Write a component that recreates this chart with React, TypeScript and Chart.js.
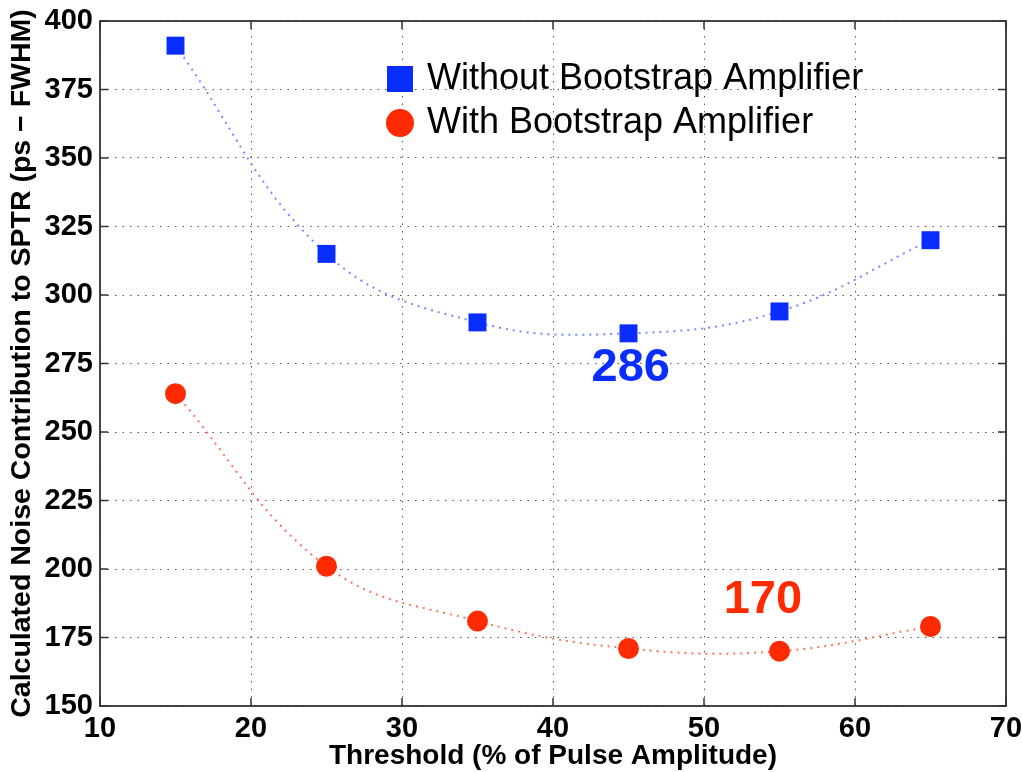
import React, { useEffect, useRef } from "react";
import { Chart, registerables } from "chart.js";

Chart.register(...registerables);

const thresholds = [15, 25, 35, 45, 55, 65];
const withoutBootstrap = [391, 315, 290, 286, 294, 320];
const withBootstrap = [264, 201, 181, 171, 170, 179];
const xTickValues = [10, 20, 30, 40, 50, 60, 70];
const yTickValues = [150, 175, 200, 225, 250, 275, 300, 325, 350, 375, 400];
const seriesNames = ["Without Bootstrap Amplifier", "With Bootstrap Amplifier"];
const callouts = [
  { x: 45.15, y: 273.5, text: "286", color: "#0a2dff" },
  { x: 53.9, y: 188.7, text: "170", color: "#ff2a00" },
];

const BLUE = "#0a2dff";
const RED = "#ff2a00";
const FONT = "'Liberation Sans', Arial, Helvetica, sans-serif";

const framePlugin = {
  id: "frame",
  afterDraw(chart: any) {
    const { ctx, chartArea: a, scales } = chart;
    const xs = scales.x;
    const ys = scales.y;
    ctx.save();
    // axes box
    ctx.strokeStyle = "#333";
    ctx.lineWidth = 1.8;
    ctx.strokeRect(a.left, a.top, a.right - a.left, a.bottom - a.top);
    // inward tick marks on all four sides
    ctx.lineWidth = 1.5;
    const tl = 8;
    xTickValues.forEach((v) => {
      const px = xs.getPixelForValue(v);
      ctx.beginPath();
      ctx.moveTo(px, a.bottom);
      ctx.lineTo(px, a.bottom - tl);
      ctx.moveTo(px, a.top);
      ctx.lineTo(px, a.top + tl);
      ctx.stroke();
    });
    yTickValues.forEach((v) => {
      const py = ys.getPixelForValue(v);
      ctx.beginPath();
      ctx.moveTo(a.left, py);
      ctx.lineTo(a.left + tl, py);
      ctx.moveTo(a.right, py);
      ctx.lineTo(a.right - tl, py);
      ctx.stroke();
    });

    // legend
    const lx = a.left + 300;
    const ly1 = a.top + 58;
    const ly2 = a.top + 102;
    ctx.fillStyle = BLUE;
    ctx.fillRect(lx - 13, ly1 - 13, 26, 26);
    ctx.fillStyle = RED;
    ctx.beginPath();
    ctx.arc(lx, ly2, 14, 0, Math.PI * 2);
    ctx.fill();
    ctx.fillStyle = "#000";
    ctx.font = `36px ${FONT}`;
    ctx.textBaseline = "middle";
    ctx.textAlign = "left";
    ctx.fillText(seriesNames[0], lx + 27, ly1);
    ctx.fillText(seriesNames[1], lx + 27, ly2);

    // value callouts
    ctx.font = `bold 47px ${FONT}`;
    ctx.textAlign = "center";
    callouts.forEach((c) => {
      ctx.fillStyle = c.color;
      ctx.fillText(c.text, xs.getPixelForValue(c.x), ys.getPixelForValue(c.y));
    });
    ctx.restore();
  },
};

export default function App() {
  const canvasRef = useRef<HTMLCanvasElement | null>(null);

  useEffect(() => {
    document.body.style.margin = "0";
    const canvas = canvasRef.current;
    if (!canvas) return;
    const chart = new Chart(canvas, {
      type: "line",
      data: {
        datasets: [
          {
            label: seriesNames[0],
            data: thresholds.map((x, i) => ({ x, y: withoutBootstrap[i] })),
            borderColor: "rgba(90,120,255,0.85)",
            borderWidth: 2,
            borderDash: [2, 5],
            tension: 0.4,
            pointStyle: "rect",
            pointRadius: 12.7,
            pointBackgroundColor: BLUE,
            pointBorderColor: BLUE,
            pointBorderWidth: 0,
          },
          {
            label: seriesNames[1],
            data: thresholds.map((x, i) => ({ x, y: withBootstrap[i] })),
            borderColor: "rgba(255,90,60,0.85)",
            borderWidth: 2,
            borderDash: [2, 5],
            tension: 0.4,
            pointStyle: "circle",
            pointRadius: 10.5,
            pointBackgroundColor: RED,
            pointBorderColor: RED,
            pointBorderWidth: 0,
          },
        ],
      },
      options: {
        animation: false,
        responsive: false,
        maintainAspectRatio: false,
        layout: { padding: { top: 21, right: 16, left: 0, bottom: 0 } },
        plugins: {
          legend: { display: false },
          tooltip: { enabled: false },
        },
        scales: {
          x: {
            type: "linear",
            min: 10,
            max: 70,
            afterBuildTicks: (s: any) => {
              s.ticks = xTickValues.map((value) => ({ value }));
            },
            afterFit: (s: any) => {
              s.height = 66;
              s.paddingLeft = 0;
              s.paddingRight = 0;
            },
            grid: { color: "#555", lineWidth: 1, drawTicks: false },
            border: { display: false, dash: [1.5, 6] },
            ticks: {
              color: "#000",
              padding: 6,
              maxRotation: 0,
              font: { family: FONT, size: 29, weight: "bold" },
            },
            title: {
              display: true,
              text: "Threshold (% of Pulse Amplitude)",
              color: "#000",
              padding: { top: 0, bottom: 0 },
              font: { family: FONT, size: 28, weight: "bold", lineHeight: 1.1 },
            },
          },
          y: {
            type: "linear",
            min: 150,
            max: 400,
            afterBuildTicks: (s: any) => {
              s.ticks = yTickValues.map((value) => ({ value }));
            },
            afterFit: (s: any) => {
              s.width = 100;
              s.paddingTop = 0;
              s.paddingBottom = 0;
            },
            grid: { color: "#555", lineWidth: 1, drawTicks: false },
            border: { display: false, dash: [1.5, 6] },
            ticks: {
              color: "#000",
              padding: 7,
              font: { family: FONT, size: 29, weight: "bold" },
            },
            title: {
              display: true,
              text: "Calculated Noise Contribution to SPTR (ps \u2212 FWHM)",
              color: "#000",
              padding: { top: 5, bottom: 0 },
              font: { family: FONT, size: 28.5, weight: "bold" },
            },
          },
        },
      },
      plugins: [framePlugin],
    } as any);
    return () => chart.destroy();
  }, []);

  return (
    <div style={{ width: 1022, height: 772, background: "#fff" }}>
      <canvas ref={canvasRef} width={1022} height={772} style={{ display: "block" }} />
    </div>
  );
}
